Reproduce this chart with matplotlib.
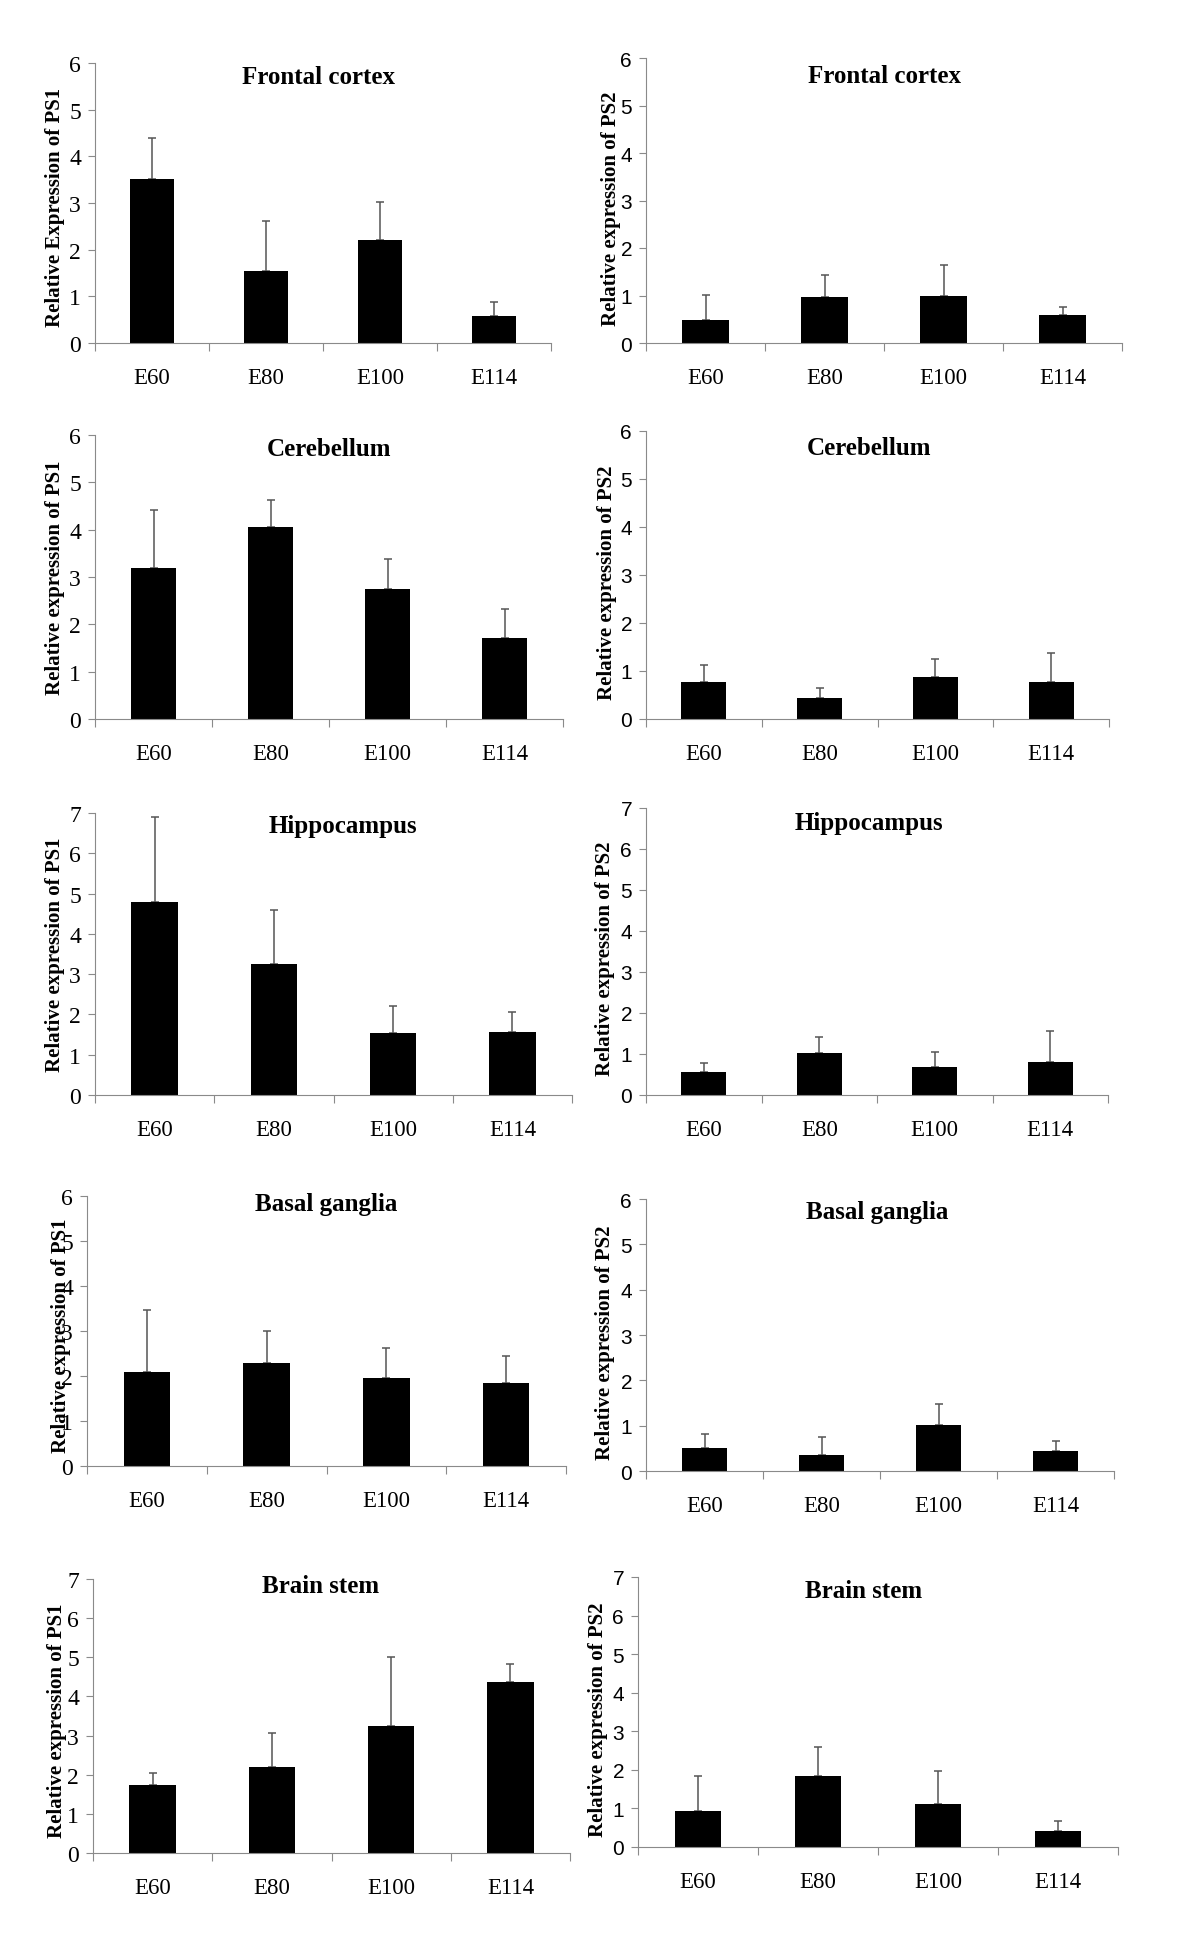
import numpy as np
import matplotlib
matplotlib.use("Agg")
import matplotlib.pyplot as plt
from matplotlib.ticker import FixedLocator

# ages on the x axis
stages = ["E60", "E80", "E100", "E114"]

# PS1 (left column) : means and upper error
frontal_ps1 = [3.51, 1.54, 2.20, 0.57]
frontal_ps1_err = [0.88, 1.08, 0.83, 0.30]
cereb_ps1 = [3.20, 4.05, 2.75, 1.72]
cereb_ps1_err = [1.21, 0.57, 0.62, 0.60]
hippo_ps1 = [4.80, 3.24, 1.55, 1.56]
hippo_ps1_err = [2.10, 1.34, 0.66, 0.51]
basal_ps1 = [2.08, 2.30, 1.96, 1.85]
basal_ps1_err = [1.39, 0.71, 0.66, 0.59]
stem_ps1 = [1.75, 2.19, 3.24, 4.36]
stem_ps1_err = [0.29, 0.87, 1.76, 0.47]

# PS2 (right column)
frontal_ps2 = [0.48, 0.96, 0.98, 0.60]
frontal_ps2_err = [0.54, 0.47, 0.67, 0.16]
cereb_ps2 = [0.78, 0.43, 0.88, 0.78]
cereb_ps2_err = [0.35, 0.21, 0.38, 0.59]
hippo_ps2 = [0.55, 1.02, 0.68, 0.81]
hippo_ps2_err = [0.23, 0.39, 0.36, 0.74]
basal_ps2 = [0.51, 0.36, 1.01, 0.44]
basal_ps2_err = [0.30, 0.39, 0.46, 0.23]
stem_ps2 = [0.94, 1.83, 1.12, 0.41]
stem_ps2_err = [0.90, 0.75, 0.85, 0.26]

W, H = 1200, 1956
grey = "#8a8a8a"

# (title, ylabel, values, err, ymax, axes box px (left, top, right, zero),
#  ylabel centre px, title offset px (dx, dy), is_ps2)
panels = [
    ("Frontal cortex", "Relative Expression of PS1", frontal_ps1, frontal_ps1_err, 6,
     (95, 64, 551, 344), (55, 207), (-5, 13), False),
    ("Frontal cortex", "Relative expression of PS2", frontal_ps2, frontal_ps2_err, 6,
     (646, 59, 1122, 344), (611, 209), (1, 17), True),
    ("Cerebellum", "Relative expression of PS1", cereb_ps1, cereb_ps1_err, 6,
     (95, 436, 563, 720), (55, 578), (0, 13), False),
    ("Cerebellum", "Relative expression of PS2", cereb_ps2, cereb_ps2_err, 6,
     (646, 432, 1109, 720), (607, 583), (-8, 17), True),
    ("Hippocampus", "Relative expression of PS1", hippo_ps1, hippo_ps1_err, 7,
     (95, 814, 572, 1096), (55, 955), (9, 13), False),
    ("Hippocampus", "Relative expression of PS2", hippo_ps2, hippo_ps2_err, 7,
     (646, 809, 1108, 1096), (605, 959), (-8, 15), True),
    ("Basal ganglia", "Relative expression of PS1", basal_ps1, basal_ps1_err, 6,
     (87, 1197, 566, 1467), (61, 1336), (0, 8), False),
    ("Basal ganglia", "Relative expression of PS2", basal_ps2, basal_ps2_err, 6,
     (646, 1200, 1114, 1472), (605, 1343), (-3, 13), True),
    ("Brain stem", "Relative expression of PS1", stem_ps1, stem_ps1_err, 7,
     (93, 1580, 570, 1854), (57, 1721), (-11, 7), False),
    ("Brain stem", "Relative expression of PS2", stem_ps2, stem_ps2_err, 7,
     (638, 1578, 1118, 1848), (598, 1720), (-14, 14), True),
]

serif = "Liberation Serif"
sans = "Liberation Sans"

fig = plt.figure(figsize=(W / 100, H / 100), dpi=100)
fig.patch.set_facecolor("white")

x = np.arange(len(stages))

for title, ylab, vals, err, ymax, box, lab_xy, t_off, is_ps2 in panels:
    l, t, r, z = box
    ax = fig.add_axes([l / W, 1 - z / H, (r - l) / W, (z - t) / H])
    ax.bar(x, vals, width=0.39, color="black", edgecolor="none", zorder=2)
    ax.errorbar(x, vals, yerr=[np.zeros(len(err)), err], fmt="none",
                ecolor="#555555", elinewidth=1.1, capsize=3, capthick=1.1, zorder=1)
    ax.set_xlim(-0.5, len(stages) - 0.5)
    ax.set_ylim(0, ymax)
    ax.set_yticks(range(ymax + 1))
    ax.set_xticks(x)
    ax.set_xticklabels(stages, fontfamily=serif, fontsize=16.5)
    ax.xaxis.set_minor_locator(FixedLocator(np.arange(len(stages) + 1) - 0.5))
    ax.tick_params(axis="x", which="major", length=0, pad=17)
    ax.tick_params(axis="x", which="minor", length=6, direction="out", color=grey, width=0.8)
    ax.tick_params(axis="y", length=5, direction="out", color=grey, width=0.8, pad=5)
    for lbl in ax.get_yticklabels():
        lbl.set_fontfamily(sans if is_ps2 else serif)
        lbl.set_fontsize(15 if is_ps2 else 17)
    for s in ["top", "right"]:
        ax.spines[s].set_visible(False)
    for s in ["left", "bottom"]:
        ax.spines[s].set_color(grey)
        ax.spines[s].set_linewidth(0.8)
    ax.annotate(title, xy=(0.5, 1), xycoords="axes fraction", xytext=(t_off[0], -t_off[1]),
                textcoords="offset pixels", ha="center", va="center",
                fontfamily=serif, fontweight="bold", fontsize=18)
    fig.text(lab_xy[0] / W, 1 - lab_xy[1] / H, ylab, rotation=90, ha="center", va="center",
             fontfamily=serif, fontweight="bold", fontsize=15)

fig.savefig("out.png", dpi=100, facecolor="white")
